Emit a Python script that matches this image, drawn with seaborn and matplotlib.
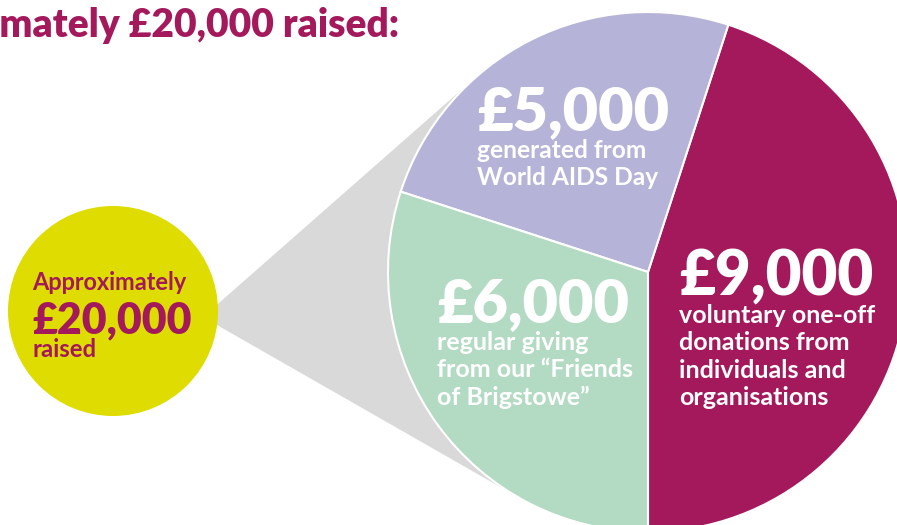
import matplotlib
matplotlib.use("Agg")
import matplotlib.pyplot as plt
import numpy as np
import seaborn as sns
from matplotlib.patches import Circle, Polygon

sns.set_style("white")
plt.rcParams["font.family"] = ["Lato", "DejaVu Sans"]

# data
amounts = [9000, 5000, 6000]
amount_labels = ["£9,000", "£5,000", "£6,000"]
descriptions = [
    ["voluntary one-off", "donations from", "individuals and", "organisations"],
    ["generated from", "World AIDS Day"],
    ["regular giving", "from our \u201cFriends", "of Brigstowe\u201d"],
]
total = sum(amounts)
headline = f"Approximately £{total:,} raised:"
badge_lines = ["Approximately", f"£{total:,}", "raised"]

magenta = "#a3195b"
colors = [magenta, "#b6b3d8", "#b3dac3"]
yellow = "#dedc00"
grey = "#d9d9d9"

W, H = 897, 525
fig = plt.figure(figsize=(W / 100, H / 100), dpi=100)
ax = fig.add_axes([0, 0, 1, 1])

pie_c = np.array([648.0, H - 272.0])
pie_r = 260
badge_c = np.array([113.0, H - 311.0])
badge_r = 105
apex = np.array([203.0, H - 317.0])

ax.pie(amounts, colors=colors, startangle=-90, counterclock=True,
       center=tuple(pie_c), radius=pie_r,
       wedgeprops=dict(edgecolor="white", linewidth=1.5, zorder=3))

# grey "zoom" cone: tangents from apex to the pie
d = pie_c - apex
dist = np.hypot(*d)
base = np.arctan2(d[1], d[0])
half = np.arcsin(pie_r / dist)
tlen = np.sqrt(dist ** 2 - pie_r ** 2)
p1 = apex + tlen * np.array([np.cos(base + half), np.sin(base + half)])
p2 = apex + tlen * np.array([np.cos(base - half), np.sin(base - half)])
ax.add_patch(Polygon([apex, p1, pie_c, p2], closed=True, fc=grey, ec="none", zorder=1))
ax.add_patch(Circle(badge_c, badge_r, fc=yellow, ec="none", zorder=4))

ax.set_xlim(0, W)
ax.set_ylim(0, H)
ax.set_aspect("equal")
ax.axis("off")

renderer = fig.canvas.get_renderer()


def fit_size(lines, width, weight="bold"):
    # font size that makes the widest line span `width` pixels
    widest = 0
    for s in lines:
        t = ax.text(0, 0, s, fontsize=20, fontweight=weight)
        widest = max(widest, t.get_window_extent(renderer).width)
        t.remove()
    return 20 * width / widest


def write(x, y_img, s, size, color="white", weight="bold", ha="left"):
    ax.text(x, H - y_img, s, fontsize=size, color=color, fontweight=weight,
            ha=ha, va="baseline", zorder=6)


# headline, clipped on the left as in the original
hs = fit_size(["mately £20,000 raised:"], 400, "heavy")
write(400, 37, headline, hs, color=magenta, weight="heavy", ha="right")

# wedge labels: (left x, amount baseline, first line baseline, amount width, block width)
spots = [
    (679, 295, 323, 193, 196),
    (477, 130, 158, 191, 181),
    (437, 322, 350, 191, 196),
]
for lab, desc, (x, yb, y0, aw, dw) in zip(amount_labels, descriptions, spots):
    write(x, yb, lab, fit_size([lab], aw, "heavy"), weight="heavy")
    ds = fit_size(desc, dw)
    for i, line in enumerate(desc):
        write(x, y0 + i * 27.4, line, ds)

# badge text
write(32, 290, badge_lines[0], fit_size([badge_lines[0]], 155), color=magenta)
write(32, 333, badge_lines[1], fit_size([badge_lines[1]], 159, "heavy"), color=magenta, weight="heavy")
write(32, 357, badge_lines[2], fit_size([badge_lines[2]], 64), color=magenta)

fig.savefig("out.png", dpi=100)
